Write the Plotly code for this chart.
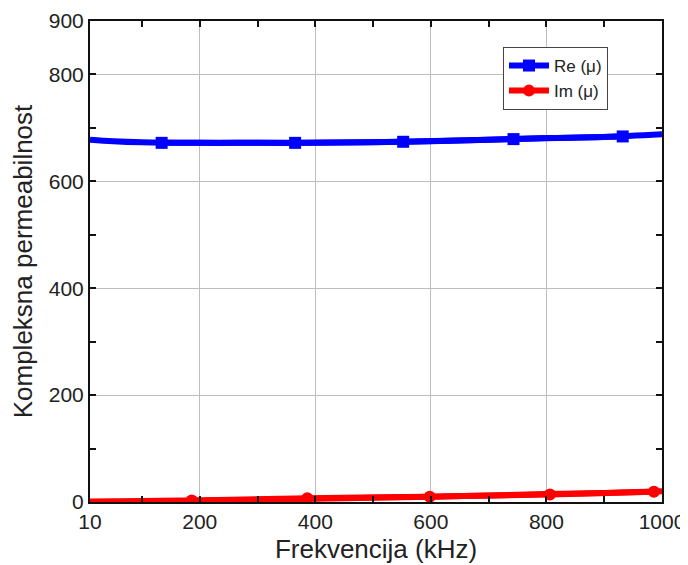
import plotly.graph_objects as go

# Data
freq_line = [10, 50, 100, 200, 300, 400, 500, 600, 700, 800, 900, 1000]
re_line = [678, 675, 673, 672, 672, 672, 673, 675, 678, 681, 683, 688]
im_line = [1, 1.5, 2, 3, 4, 6, 8, 10, 12, 15, 17, 20]

re_mark_x = [134, 365, 552, 743, 932]
re_mark_y = [672, 672, 674, 679, 684]
im_mark_x = [186, 386, 598, 806, 986]
im_mark_y = [3, 7, 10, 14, 19]

x_ticks = [10, 200, 400, 600, 800, 1000]
x_minor = [100, 300, 500, 700, 900]
y_ticks = [0, 200, 400, 600, 800, 900]
y_minor = [100, 300, 500, 700]

BLUE = "#0000ff"
RED = "#ff0000"
FONT = "Liberation Sans, Arial, sans-serif"

fig = go.Figure()
fig.add_trace(go.Scatter(x=freq_line, y=re_line, mode="lines", line=dict(color=BLUE, width=6, shape="spline"),
                         showlegend=False, hoverinfo="skip"))
fig.add_trace(go.Scatter(x=freq_line, y=im_line, mode="lines", line=dict(color=RED, width=6, shape="spline"),
                         showlegend=False, hoverinfo="skip"))
fig.add_trace(go.Scatter(x=re_mark_x, y=re_mark_y, mode="lines+markers", name="Re (μ)",
                         line=dict(color=BLUE, width=6, shape="spline"),
                         marker=dict(symbol="square", size=12, color=BLUE)))
fig.add_trace(go.Scatter(x=im_mark_x, y=im_mark_y, mode="lines+markers", name="Im (μ)",
                         line=dict(color=RED, width=6, shape="spline"),
                         marker=dict(symbol="circle", size=12, color=RED)))

axis_common = dict(showline=True, linecolor="#111", linewidth=2, mirror="ticks",
                   ticks="inside", ticklen=6, tickcolor="#111", tickwidth=1.5,
                   showgrid=True, gridcolor="#bdbdbd", gridwidth=1, zeroline=False,
                   automargin=False, ticklabeloverflow="allow",
                   tickfont=dict(family=FONT, size=21, color="#222"))

fig.update_xaxes(range=[10, 1000], tickvals=x_ticks, ticktext=[str(v) for v in x_ticks],
                 minor=dict(tickvals=x_minor, ticks="inside", ticklen=6, tickcolor="#111", showgrid=False),
                 title=dict(text="Frekvencija (kHz)", font=dict(family=FONT, size=26, color="#222"), standoff=8),
                 **axis_common)
fig.update_yaxes(range=[0, 900], tickvals=y_ticks, ticktext=[str(v) for v in y_ticks],
                 minor=dict(tickvals=y_minor, ticks="inside", ticklen=6, tickcolor="#111", showgrid=False),
                 title=dict(text="Kompleksna permeabilnost", font=dict(family=FONT, size=26, color="#222"), standoff=12),
                 **axis_common)

fig.update_layout(
    width=680, height=557,
    margin=dict(l=82, r=26, t=13, b=63),
    plot_bgcolor="white", paper_bgcolor="white",
    font=dict(family=FONT, color="#222"),
    legend=dict(x=0.722, y=0.946, xanchor="left", yanchor="top",
                bgcolor="white", bordercolor="#444", borderwidth=1, itemwidth=40,
                font=dict(family=FONT, size=17, color="#222"), tracegroupgap=0),
)

fig.write_html("out.html")
